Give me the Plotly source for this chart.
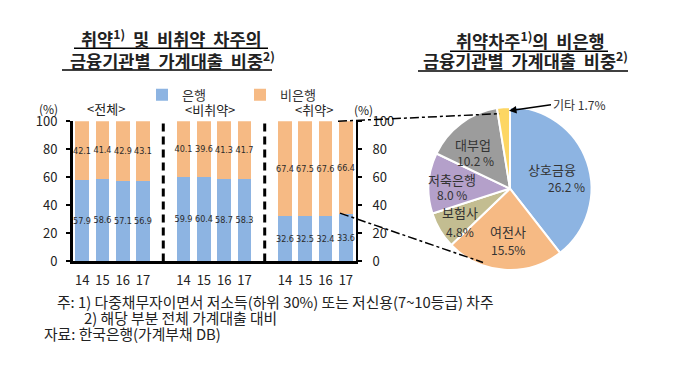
import plotly.graph_objects as go

# page body has an 8px margin; the figure is sized/positioned to compensate
OFF = 8
W, H = 680 - 2 * OFF, 377 - 2 * OFF

# ---- data ----
groups = ["전체", "비취약", "취약"]
years = ["14", "15", "16", "17"]
bank = [57.9, 58.6, 57.1, 56.9, 59.9, 60.4, 58.7, 58.3, 32.6, 32.5, 32.4, 33.6]
nonbank = [42.1, 41.4, 42.9, 43.1, 40.1, 39.6, 41.3, 41.7, 67.4, 67.5, 67.6, 66.4]
y_ticks = [0, 20, 40, 60, 80, 100]

pie_labels = ["상호금융", "여전사", "보험사", "저축은행", "대부업", "기타"]
pie_values = [26.2, 15.5, 4.8, 8.0, 10.2, 1.7]
pie_text = ["26.2 %", "15.5%", "4.8%", "8.0 %", "10.2 %", "1.7%"]

BLUE = "#8DB4E2"
ORANGE = "#F6BA84"
pie_colors = [BLUE, ORANGE, "#C3BD91", "#B4A0CA", "#9C9C9C", "#FDD663"]

FONT = "Noto Sans CJK KR, Malgun Gothic, sans-serif"
NUMFONT = "DejaVu Sans Condensed, Liberation Sans Narrow, Liberation Sans, sans-serif"

def px(x):
    return (x - OFF) / W

def py(y):
    return 1 - (y - OFF) / H

# x positions: 4 bars per group, one empty slot between groups
xpos = [g * 5 + i for g in range(len(groups)) for i in range(len(years))]
xticktext = [yr for g in groups for yr in years]

fig = go.Figure()
for name, vals, col in [("은행", bank, BLUE), ("비은행", nonbank, ORANGE)]:
    fig.add_trace(go.Bar(
        x=xpos, y=vals, name=name, marker=dict(color=col, line=dict(width=0)),
        width=0.68, text=[f"{v:.1f}" for v in vals], textposition="inside",
        insidetextanchor="middle", textangle=0, constraintext="none",
        textfont=dict(family=NUMFONT, size=9, color="#2a2a2a"),
    ))
# invisible trace to carry the right axis
fig.add_trace(go.Scatter(x=[xpos[0]], y=[0], yaxis="y2", mode="markers",
                         marker=dict(opacity=0), showlegend=False, hoverinfo="skip"))

fig.add_trace(go.Pie(
    labels=pie_labels, values=pie_values, sort=False, direction="clockwise",
    rotation=0, textinfo="none", showlegend=False,
    marker=dict(colors=pie_colors, line=dict(color="white", width=2)),
    domain=dict(x=[px(424), px(596)], y=[py(274), py(102)]),
))

fig.update_layout(
    width=W, height=H, margin=dict(l=0, r=0, t=0, b=0),
    paper_bgcolor="white", plot_bgcolor="white",
    barmode="stack", bargap=0,
    font=dict(family=FONT, size=13, color="#222222"),
    xaxis=dict(domain=[px(73), px(356)], range=[-0.45, 13.5], tickvals=xpos, ticktext=xticktext,
               showline=True, linecolor="black", linewidth=3, ticks="", showgrid=False,
               zeroline=False, tickfont=dict(size=13, color="#222222"), ticklabelstandoff=5),
    yaxis=dict(domain=[py(265), py(117)], range=[0, 100], tickvals=y_ticks, showline=True,
               linecolor="black", linewidth=3, ticks="outside", ticklen=4, tickwidth=2,
               tickcolor="black", showgrid=False, zeroline=False, ticklabelstandoff=6,
               tickfont=dict(size=13, color="#222222")),
    yaxis2=dict(overlaying="y", side="right", anchor="x", range=[0, 100], tickvals=y_ticks,
                showline=True, linecolor="black", linewidth=2, ticks="outside", ticklen=4,
                tickwidth=2, tickcolor="black", showgrid=False, zeroline=False,
                ticklabelstandoff=8, tickfont=dict(size=13, color="#222222")),
    legend=dict(orientation="h", x=px(142), y=py(89), xanchor="left", yanchor="middle",
                font=dict(size=13, color="#333333"), traceorder="normal",
                entrywidth=53, entrywidthmode="pixels", itemwidth=30,
                bgcolor="rgba(0,0,0,0)", tracegroupgap=0),
)

shapes = []
for sep in [4, 9]:
    shapes.append(dict(type="line", xref="x", yref="y", x0=sep, x1=sep, y0=0, y1=100,
                       line=dict(color="black", width=3, dash="8px,5px")))
# zoom connector lines
shapes.append(dict(type="line", xref="paper", yref="paper", x0=px(338), y0=py(117),
                   x1=px(500), y1=py(109), line=dict(color="black", width=1.5, dash="dashdot")))
shapes.append(dict(type="line", xref="paper", yref="paper", x0=px(340), y0=py(214),
                   x1=px(483), y1=py(266), line=dict(color="black", width=1.5, dash="dashdot")))
# title underlines
for (xa, xb, yy) in [(74, 268, 40), (62, 272, 63), (450, 608, 43), (418, 628, 64)]:
    shapes.append(dict(type="line", xref="paper", yref="paper", x0=px(xa), x1=px(xb),
                       y0=py(yy), y1=py(yy), line=dict(color="black", width=1.5)))
fig.update_layout(shapes=shapes)

ann = []
def text(x, y, s, size=13, anchor="center", color="#222222"):
    ann.append(dict(x=px(x), y=py(y), xref="paper", yref="paper", text=s, showarrow=False,
                    xanchor=anchor, yanchor="middle", align="left" if anchor == "left" else "center",
                    font=dict(size=size, color=color, family=FONT)))

# titles
text(171, 29, "<b>취약<sup>1)</sup>  및  비취약  차주의</b>", size=17.5)
text(172, 52, "<b>금융기관별  가계대출  비중<sup>2)</sup></b>", size=17.5)
text(530, 31, "<b>취약차주<sup>1)</sup>의  비은행</b>", size=17.5)
text(525, 52, "<b>금융기관별  가계대출  비중<sup>2)</sup></b>", size=17.5)

# bar chart headers
text(48, 104, "(%)", size=12)
text(363, 105, "(%)", size=12)
text(106, 104, "<" + groups[0] + ">", size=13)
text(210, 105, "<" + groups[1] + ">", size=13)
text(314, 105, "<" + groups[2] + ">", size=13)

# pie labels
label_pos = [((552, 168), (566, 186)), ((508, 233), (508, 252)), ((460, 213), (460, 233)),
             ((452, 178), (452, 194)), ((473, 142), (475, 158))]
for i, (lp, vp) in enumerate(label_pos):
    text(lp[0], lp[1], pie_labels[i], size=13, color="#333333")
    text(vp[0], vp[1], pie_text[i], size=12, color="#333333")

ann.append(dict(x=px(509), y=py(106), xref="paper", yref="paper",
                text=pie_labels[5] + " " + pie_text[5], showarrow=True,
                arrowhead=2, arrowsize=1, arrowwidth=1.5, arrowcolor="black",
                ax=42, ay=-6, xanchor="left", yanchor="middle",
                font=dict(size=12, color="#333333", family=FONT)))

# footnotes
text(55, 307, "주: 1) 다중채무자이면서 저소득(하위 30%) 또는 저신용(7~10등급) 차주", size=14.8, anchor="left")
text(82, 324, "2) 해당 부분 전체 가계대출 대비", size=14.8, anchor="left")
text(42, 341, "자료: 한국은행(가계부채 DB)", size=14.8, anchor="left")

fig.update_layout(annotations=ann)
fig.write_html("out.html")
